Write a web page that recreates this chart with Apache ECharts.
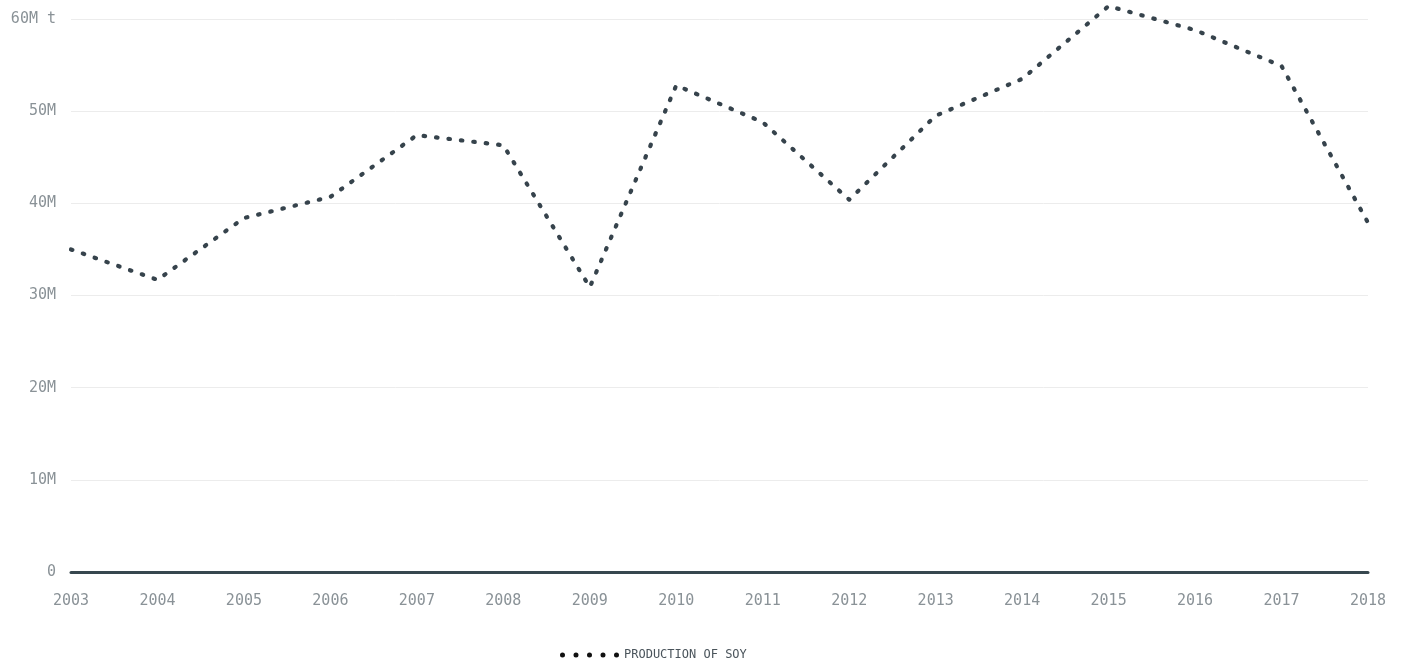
<!DOCTYPE html>
<html>
<head>
<meta charset="utf-8">
<script src="https://cdn.jsdelivr.net/npm/echarts@6/dist/echarts.min.js"></script>
<style>
html,body{margin:0;padding:0;background:#fff;}
#chart{width:1406px;height:663px;}
</style>
</head>
<body>
<div id="chart"></div>
<script>
const years = ['2003','2004','2005','2006','2007','2008','2009','2010','2011','2012','2013','2014','2015','2016','2017','2018'];
const soyProduction = [35.0, 31.7, 38.4, 40.7, 47.4, 46.3, 30.9, 52.8, 48.8, 40.4, 49.5, 53.5, 61.4, 58.8, 54.9, 37.9]; // million tonnes
const yTicks = [0, 10, 20, 30, 40, 50, 60];
const seriesName = 'PRODUCTION OF SOY';

const FONT = '"DejaVu Sans Mono", "Liberation Mono", monospace';
const chart = echarts.init(document.getElementById('chart'));

function dotsIcon() {
  let p = 'path://';
  for (let i = 0; i < 5; i++) {
    const cx = i * 13.5 + 2.5;
    p += 'M' + (cx - 2.5) + ',2.5a2.5,2.5 0 1,0 5,0a2.5,2.5 0 1,0 -5,0';
  }
  return p;
}

chart.setOption({
  animation: false,
  grid: { left: 71, right: 38, top: 19, bottom: 91, containLabel: false },
  legend: {
    left: 555, top: 644,
    itemWidth: 59, itemHeight: 5, itemGap: 6,
    icon: dotsIcon(),
    data: [{ name: seriesName, icon: dotsIcon(), itemStyle: { color: '#111' } }],
    textStyle: { fontFamily: FONT, fontSize: 12, color: '#4a545b', padding: [0, 0, 0, 0] }
  },
  xAxis: {
    type: 'category',
    data: years,
    boundaryGap: false,
    axisLine: { show: true, lineStyle: { color: '#37474f', width: 3 } },
    axisTick: { show: false },
    axisLabel: { color: '#8a9297', fontFamily: FONT, fontSize: 15, margin: 22 },
    splitLine: { show: false }
  },
  yAxis: {
    type: 'value',
    min: yTicks[0],
    max: yTicks[yTicks.length - 1],
    interval: 10,
    axisLine: { show: false },
    axisTick: { show: false },
    axisLabel: {
      color: '#8a9297', fontFamily: FONT, fontSize: 15, margin: 15, verticalAlign: 'middle',
      padding: [3, 0, 0, 0],
      formatter: function (v) {
        if (v === 0) return '0';
        if (v === yTicks[yTicks.length - 1]) return v + 'M t';
        return v + 'M';
      }
    },
    splitLine: { show: true, lineStyle: { color: '#ececec', width: 1 } }
  },
  series: [{
    name: seriesName,
    type: 'line',
    data: soyProduction,
    showSymbol: false,
    symbol: 'none',
    clip: false,
    z: 5,
    lineStyle: { color: '#36434c', width: 4.2, type: [1.5, 11], cap: 'round', join: 'round' },
    itemStyle: { color: '#36434c' }
  }]
});
</script>
</body>
</html>
